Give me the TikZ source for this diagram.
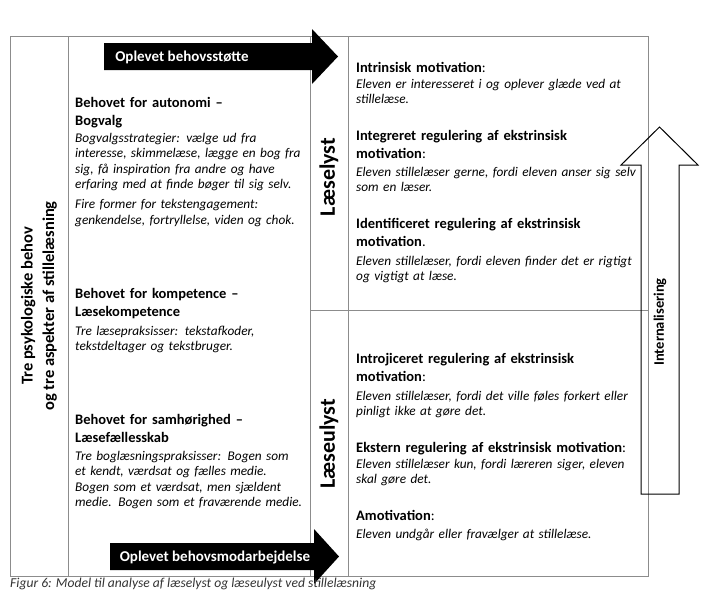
\documentclass[tikz,border=0pt]{standalone}
\usepackage{fontspec}
\setmainfont{Carlito}
\definecolor{rulegray}{HTML}{8C8C8C}
\definecolor{captiongray}{HTML}{333333}
\newcommand\headfont{\fontsize{14.5}{18}\selectfont\bfseries}
\newcommand\notefont{\fontsize{13.3}{15.6}\selectfont\itshape}

\begin{document}
\begin{tikzpicture}[x=1pt,y=-1pt,
    rule/.style={draw=rulegray,line width=0.9pt},
    head/.style={anchor=base west,inner sep=0pt,text width=290pt,align=left,font=\headfont},
    note/.style={anchor=base west,inner sep=0pt,text width=290pt,align=left,font=\notefont},
    side/.style={rotate=90,inner sep=0pt,align=center,font=\fontsize{16.5}{21.5}\selectfont\bfseries},
    mood/.style={rotate=90,inner sep=0pt,font=\fontsize{22}{24}\selectfont\bfseries},
    flowlabel/.style={inner sep=0pt,text=white,font=\fontsize{15}{17}\selectfont\bfseries}]
    \useasboundingbox (0,0) rectangle (706,592);

    % Table
    \draw[rule] (10,36) rectangle (648,576);
    \draw[rule] (68,36) -- (68,576);
    \draw[rule] (310,36) -- (310,576);
    \draw[rule] (348,36) -- (348,576);
    \draw[rule] (310,310) -- (648,310);

    % First column
    \node[side] (needs) at (39,306) {Tre psykologiske behov\\og tre aspekter af stillelæsning};

    % Second column: the three needs
    \node[head] (autonomy) at (75,107) {Behovet for autonomi –\\Bogvalg};
    \node[note] (autonomynote) at (75,142) {Bogvalgsstrategier: vælge ud fra\\interesse, skimmelæse, lægge en bog fra\\sig, få inspiration fra andre og have\\erfaring med at finde bøger til sig selv.\\[4pt]Fire former for tekstengagement:\\genkendelse, fortryllelse, viden og chok.};

    \node[head] (competence) at (75,298) {Behovet for kompetence –\\Læsekompetence};
    \node[note] (competencenote) at (75,335) {Tre læsepraksisser: tekstafkoder,\\tekstdeltager og tekstbruger.};

    \node[head] (relatedness) at (75,424) {Behovet for samhørighed –\\Læsefællesskab};
    \node[note] (relatednessnote) at (75,460) {Tre boglæsningspraksisser: Bogen som\\et kendt, værdsat og fælles medie.\\Bogen som et værdsat, men sjældent\\medie. Bogen som et fraværende medie.};

    % Third column
    \node[mood] (desire) at (329,177) {Læselyst};
    \node[mood] (aversion) at (329,444) {Læseulyst};

    % Fourth column: forms of motivation
    \node[head] (intrinsic) at (356,72) {Intrinsisk motivation\textmd{:}};
    \node[note] (intrinsicnote) at (356,88) {Eleven er interesseret i og oplever glæde ved at\\stillelæse.};

    \node[head] (integrated) at (356,140) {Integreret regulering af ekstrinsisk\\motivation\textmd{:}};
    \node[note] (integratednote) at (356,176) {Eleven stillelæser gerne, fordi eleven anser sig selv\\som en læser.};

    \node[head] (identified) at (356,228) {Identificeret regulering af ekstrinsisk\\motivation\textmd{.}};
    \node[note] (identifiednote) at (356,265) {Eleven stillelæser, fordi eleven finder det er rigtigt\\og vigtigt at læse.};

    \node[head] (introjected) at (356,363) {Introjiceret regulering af ekstrinsisk\\motivation\textmd{:}};
    \node[note] (introjectednote) at (356,400) {Eleven stillelæser, fordi det ville føles forkert eller\\pinligt ikke at gøre det.};

    \node[head] (external) at (356,452) {Ekstern regulering af ekstrinsisk motivation\textmd{:}};
    \node[note] (externalnote) at (356,468) {Eleven stillelæser kun, fordi læreren siger, eleven\\skal gøre det.};

    \node[head] (amotivation) at (356,520) {Amotivation\textmd{:}};
    \node[note] (amotivationnote) at (356,538) {Eleven undgår eller fravælger at stillelæse.};

    % Black arrows
    \fill (104,43) -- (312,43) -- (312,29) -- (338,56.5) -- (312,84) -- (312,70) -- (104,70) -- cycle;
    \node[flowlabel] (support) at (182,57) {Oplevet behovsstøtte};
    \fill (110,543) -- (314,543) -- (314,529) -- (339,556.5) -- (314,584) -- (314,570) -- (110,570) -- cycle;
    \node[flowlabel] (thwart) at (215,557) {Oplevet behovsmodarbejdelse};

    % Hollow arrow
    \draw[line width=1pt,line join=miter] (641,494) -- (641,165) -- (621,165) -- (659.5,127)
        -- (698,165) -- (679,165) -- (679,494) -- cycle;
    \node[rotate=90,inner sep=0pt,font=\fontsize{14.5}{17}\selectfont\bfseries] (internal) at (660,322) {Internalisering};

    % Caption
    \node[anchor=base west,inner sep=0pt,text=captiongray,font=\fontsize{13.6}{16}\selectfont\itshape] (caption) at (10,587.5)
        {Figur 6: Model til analyse af læselyst og læseulyst ved stillelæsning};
\end{tikzpicture}
\end{document}
